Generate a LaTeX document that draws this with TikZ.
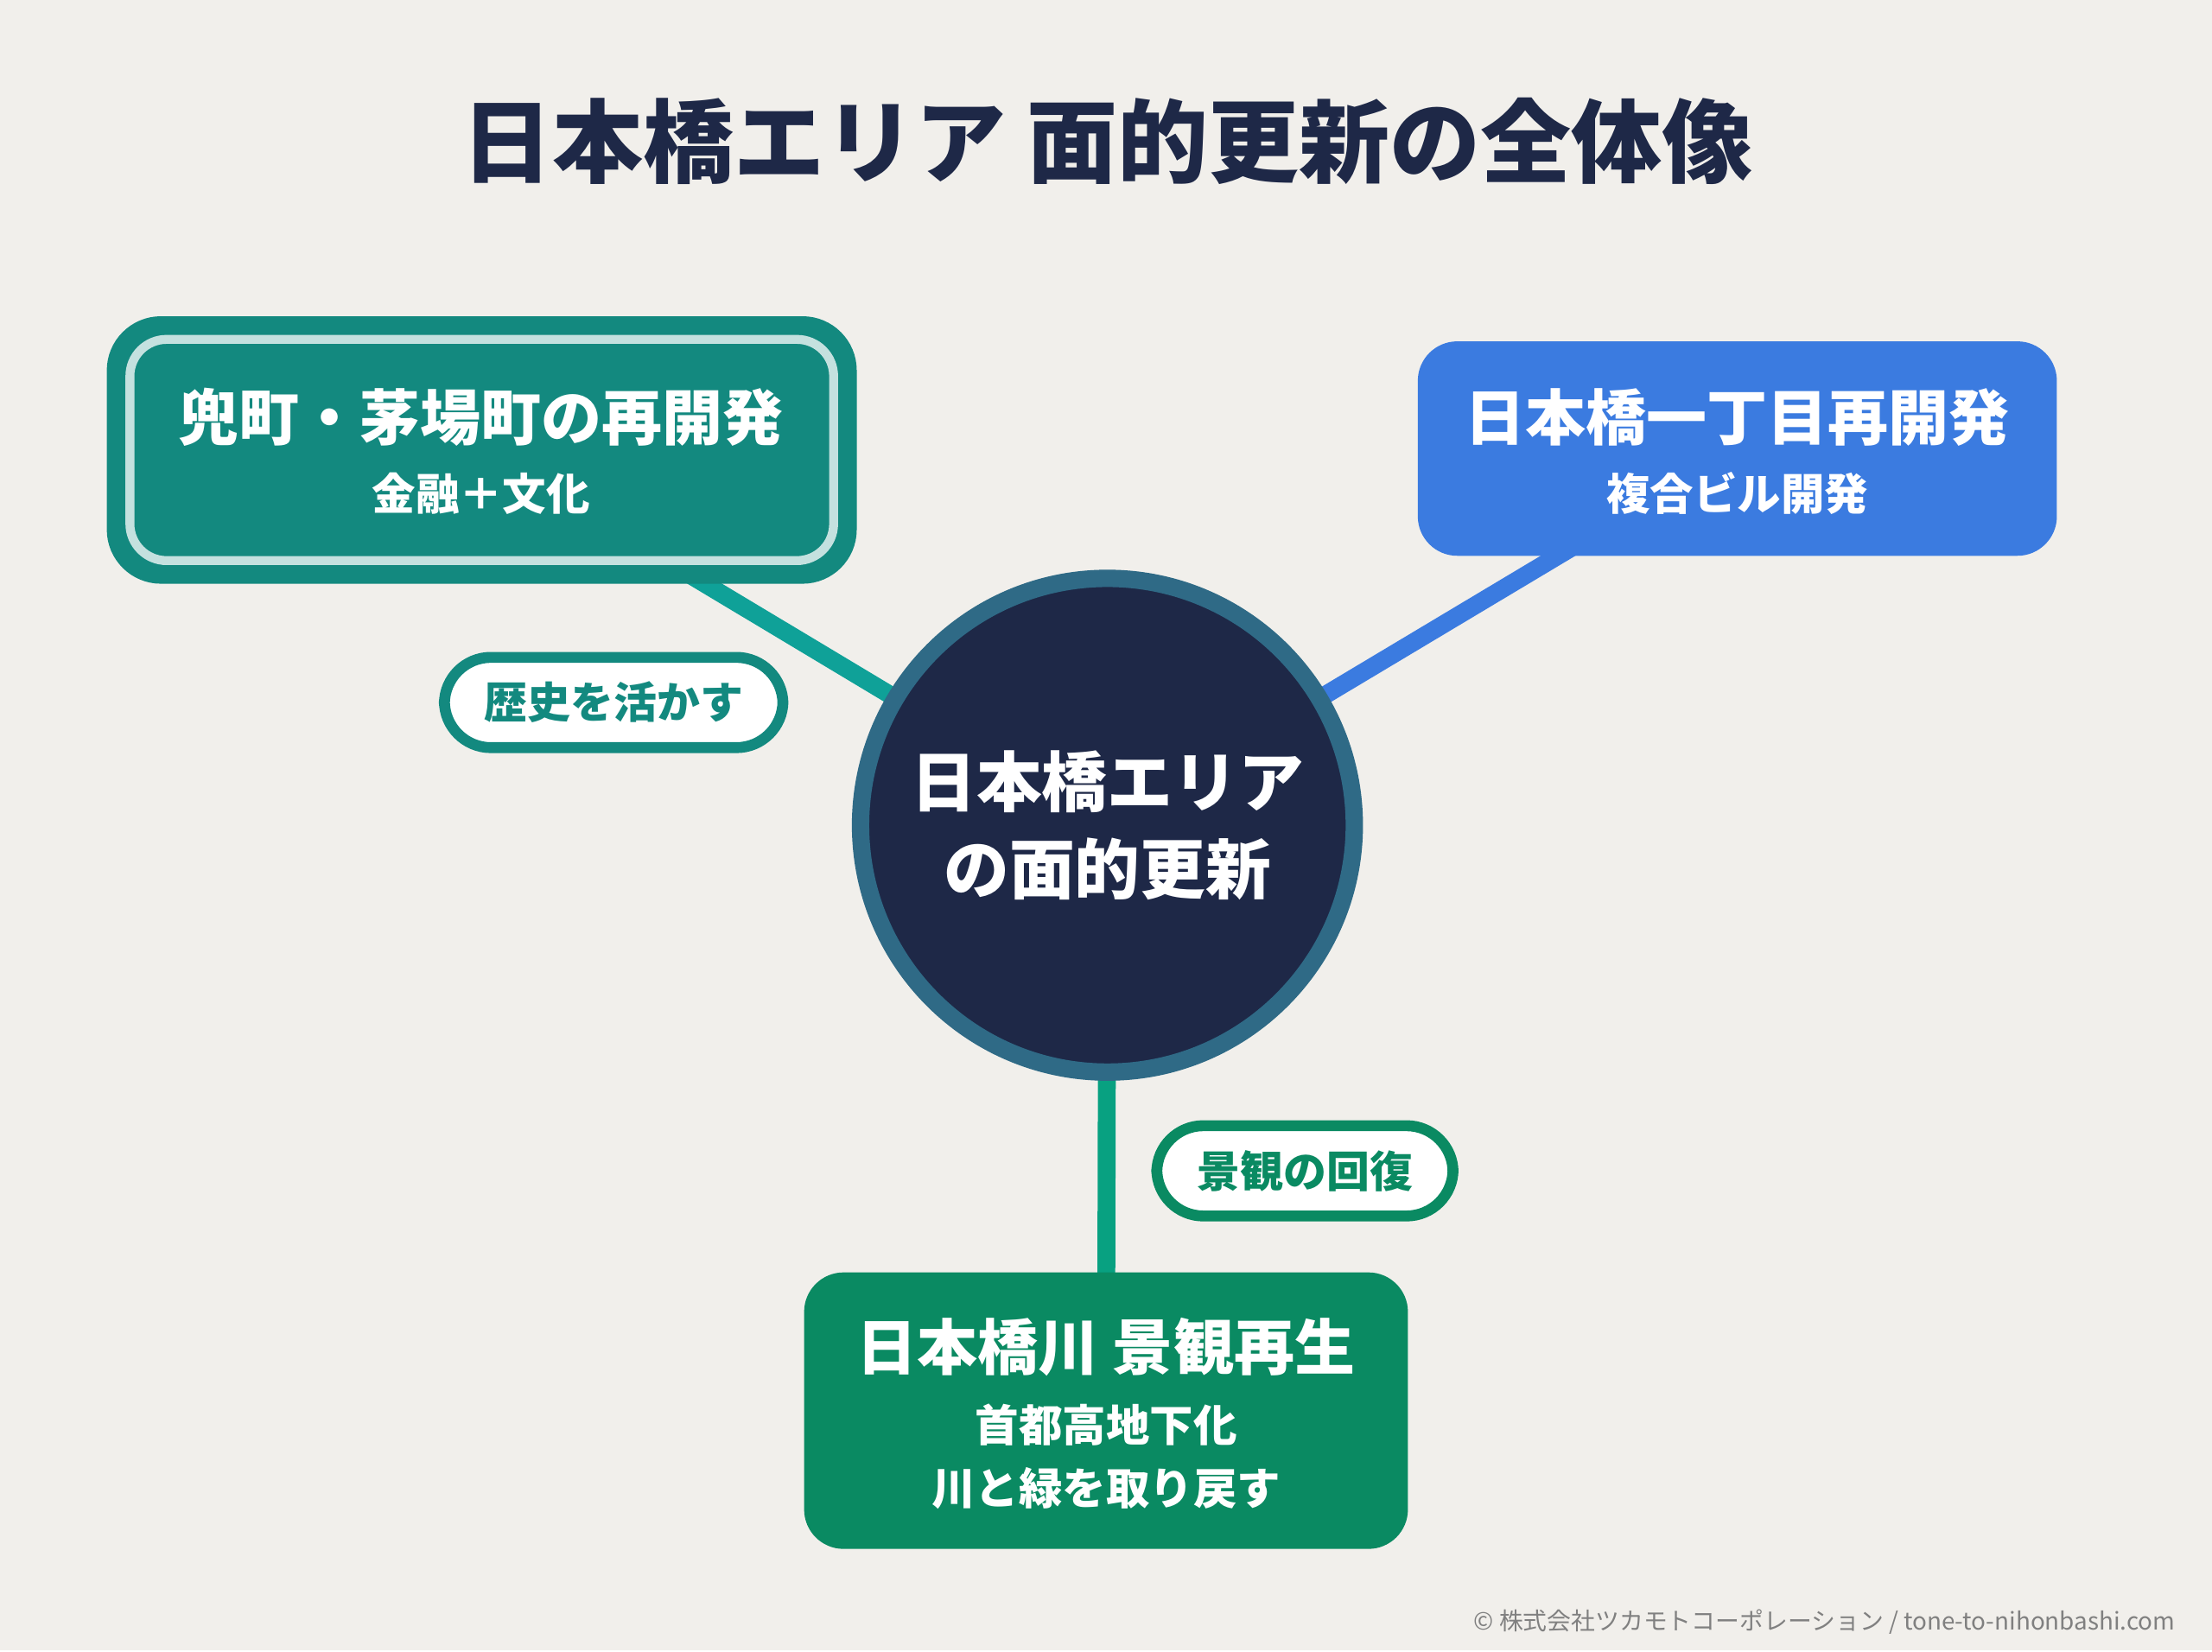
\documentclass[tikz,border=0pt]{standalone}
\usepackage{fontspec}
\setmainfont{Noto Sans CJK JP}
\definecolor{bgcol}{HTML}{F1EFEB}
\definecolor{navy}{HTML}{1E2847}
\definecolor{tealbox}{HTML}{13897F}
\definecolor{bluebox}{HTML}{3B7BE0}
\definecolor{greenbox}{HTML}{0A8A62}
\definecolor{ringcol}{HTML}{2F6A86}

\begin{document}
\begin{tikzpicture}[>=latex,thick,
  box/.style={rounded corners=0.28cm,text=white,align=center,inner sep=0pt},
  pill/.style={rounded corners=0.33cm,fill=white,line width=2.2pt,minimum height=0.64cm,minimum width=2.4cm,font=\bfseries\fontsize{8.7}{10}\selectfont},
  head/.style={text=white,font=\bfseries\fontsize{12.2}{15}\selectfont},
  sub/.style={text=white,font=\bfseries\fontsize{8.8}{11}\selectfont},
  link/.style={line width=3.6pt}]

\fill[bgcol] (0,0) rectangle (15.68,11.70);

\node[text=navy,font=\bfseries\fontsize{18.3}{22}\selectfont] (title) at (7.85,10.70) {日本橋エリア 面的更新の全体像};

% connectors
\coordinate (kabutoC) at (3.415,8.51);
\coordinate (itchomeC) at (12.315,8.52);
\coordinate (riverC) at (7.84,1.70);
\coordinate (hubC) at (7.85,5.85);
\draw[link,tealbox!80!cyan] (kabutoC) -- (hubC);
\draw[link,bluebox] (itchomeC) -- (hubC);
\draw[link,greenbox!80!cyan] (hubC) -- (riverC);

% left box
\node[box,fill=tealbox,minimum width=5.2cm,minimum height=1.78cm] (kabuto) at (kabutoC) {};
\draw[tealbox,line width=2.5pt,rounded corners=0.34cm] (kabuto.south west) rectangle (kabuto.north east);
\draw[white!75!tealbox,line width=1.8pt,rounded corners=0.26cm] ([shift={(0.12,0.12)}]kabuto.south west) rectangle ([shift={(-0.12,-0.12)}]kabuto.north east);
\node[head] (kabutoT) at (3.41,8.74) {兜町・茅場町の再開発};
\node[sub] (kabutoS) at (3.41,8.20) {金融＋文化};

% right box
\node[box,fill=bluebox,minimum width=4.53cm,minimum height=1.52cm] (itchome) at (itchomeC) {};
\node[head] (itchomeT) at (12.315,8.74) {日本橋一丁目再開発};
\node[sub] (itchomeS) at (12.315,8.20) {複合ビル開発};

% bottom box
\node[box,fill=greenbox,minimum width=4.28cm,minimum height=1.96cm] (river) at (riverC) {};
\node[head] (riverT) at (7.84,2.15) {日本橋川 景観再生};
\node[sub] (riverA) at (7.84,1.60) {首都高地下化};
\node[sub] (riverB) at (7.84,1.15) {川と緑を取り戻す};

% hub
\node[circle,fill=navy,draw=ringcol,line width=3.5pt,minimum size=3.5cm] (hub) at (hubC) {};
\node[text=white,align=center,font=\bfseries\fontsize{13.2}{17.5}\selectfont] (hubT) at (hubC) {日本橋エリア\\の面的更新};

% labels
\node[pill,draw=tealbox,text=tealbox] (history) at (4.35,6.72) {歴史を活かす};
\node[pill,draw=greenbox,text=greenbox,minimum width=2.1cm] (view) at (9.25,3.40) {景観の回復};

\node[text=gray,anchor=east,font=\fontsize{4.85}{6}\selectfont] (copy) at (15.55,0.20) {© 株式会社ツカモトコーポレーション / tone-to-nihonbashi.com};

\end{tikzpicture}
\end{document}
